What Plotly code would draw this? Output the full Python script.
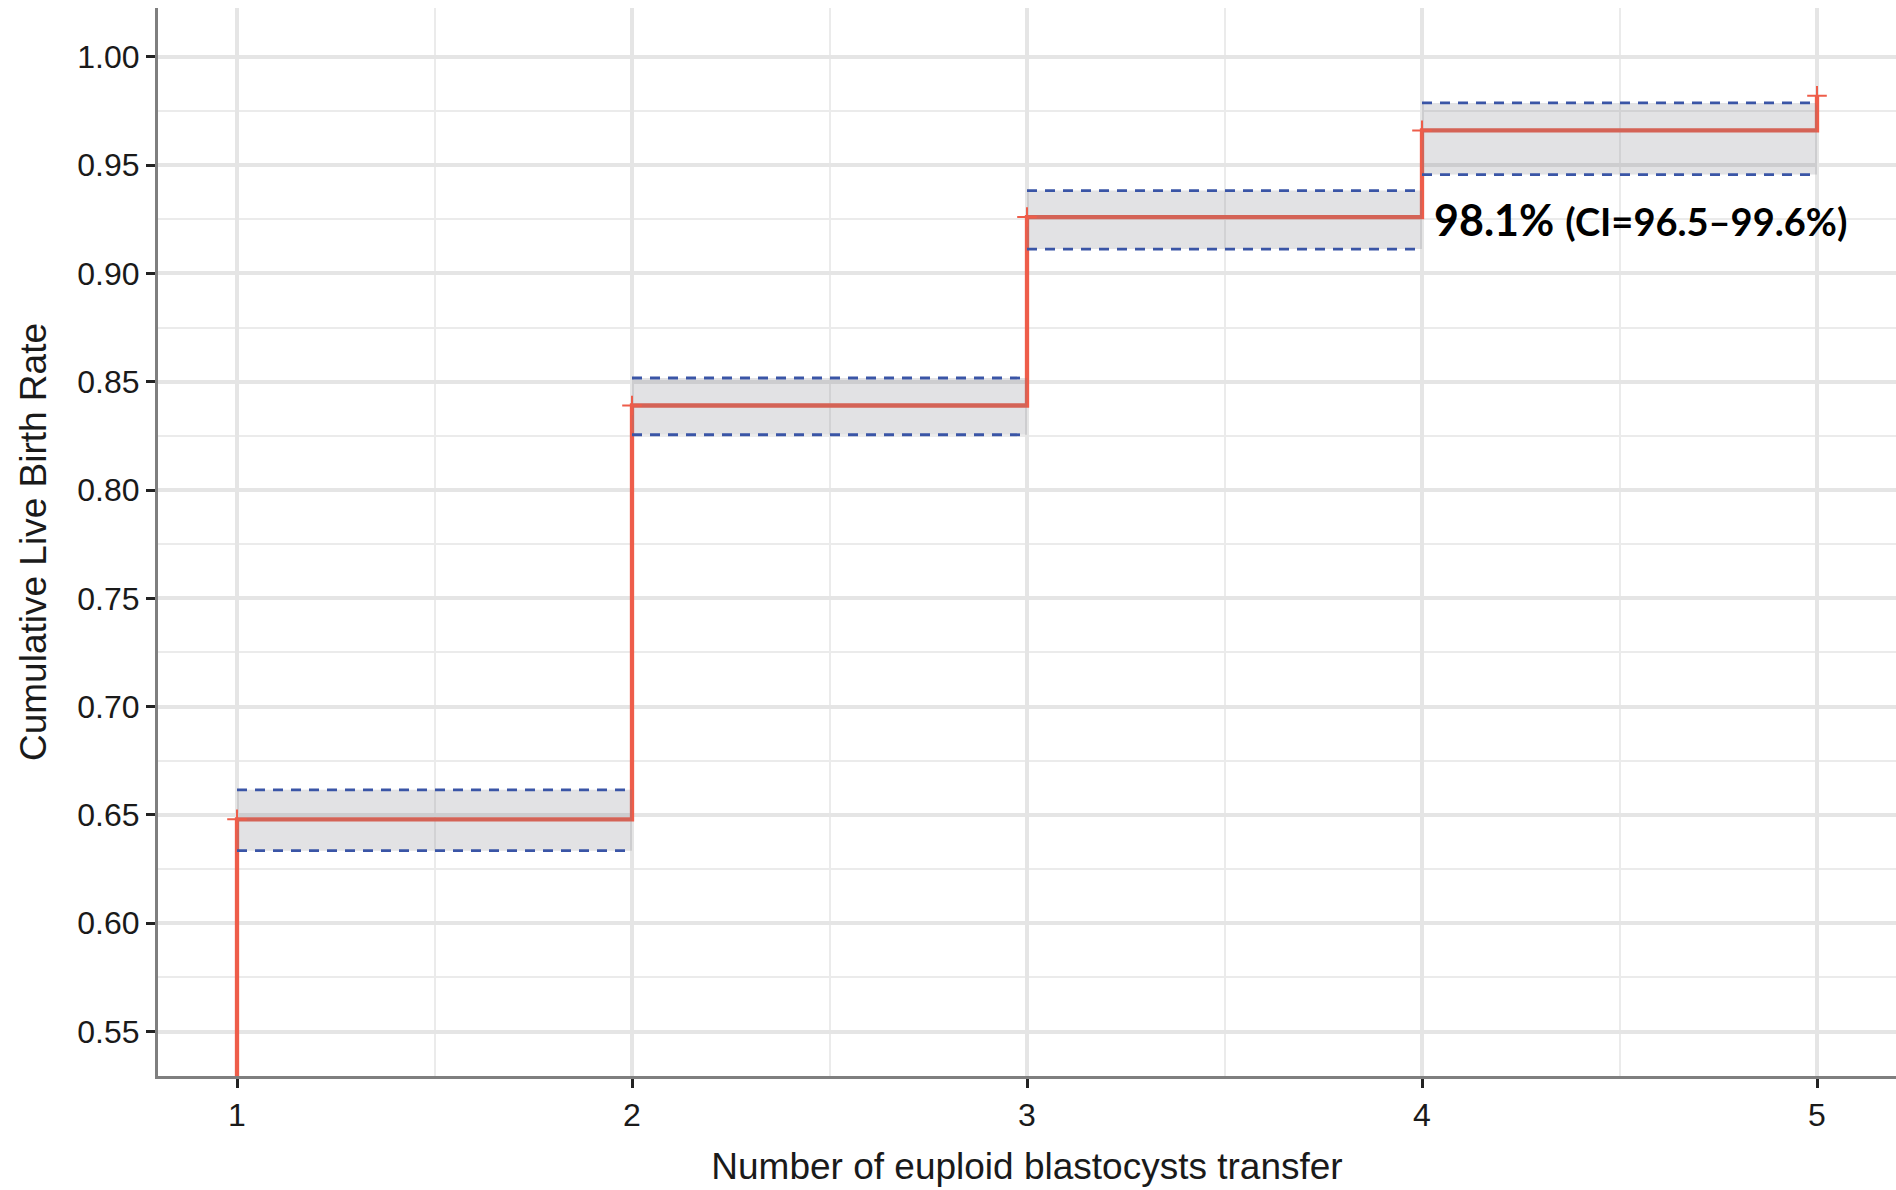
import plotly.graph_objects as go

# ---- data ----
transfers = [0, 1, 2, 3, 4, 5]
cum_rate = [0.0, 0.648, 0.839, 0.926, 0.966, 0.982]
ci_start = [1, 2, 3, 4]
ci_end = [2, 3, 4, 5]
ci_lower = [0.6335, 0.8255, 0.9112, 0.9456]
ci_upper = [0.6616, 0.8517, 0.9382, 0.9787]
x_ticks = [1, 2, 3, 4, 5]
annot_main = "98.1%"
annot_ci = "(CI=96.5–99.6%)"

RED = "#EE5D4A"
BLUE = "#3A55A6"

fig = go.Figure()

# step line
fig.add_trace(go.Scatter(x=transfers, y=cum_rate, mode="lines", line_shape="hv",
                         line=dict(color=RED, width=4.3), showlegend=False, hoverinfo="skip"))

# ribbon (per interval)
rx, ry = [], []
for a, b, lo, hi in zip(ci_start, ci_end, ci_lower, ci_upper):
    rx += [a, b, b, a, a, None]
    ry += [lo, lo, hi, hi, lo, None]
fig.add_trace(go.Scatter(x=rx, y=ry, mode="lines", fill="toself",
                         fillcolor="rgba(125,125,132,0.22)", line=dict(width=0),
                         showlegend=False, hoverinfo="skip"))

# dashed CI lines
dx, dy = [], []
for a, b, lo, hi in zip(ci_start, ci_end, ci_lower, ci_upper):
    dx += [a, b, None, a, b, None]
    dy += [lo, lo, None, hi, hi, None]
fig.add_trace(go.Scatter(x=dx, y=dy, mode="lines",
                         line=dict(color=BLUE, width=2.8, dash="10px,8px"),
                         showlegend=False, hoverinfo="skip"))

# censor marks
fig.add_trace(go.Scatter(x=transfers[1:], y=cum_rate[1:], mode="markers",
                         marker=dict(symbol="cross-thin", size=14, color=RED,
                                     line=dict(color=RED, width=2)),
                         showlegend=False, hoverinfo="skip"))

fig.add_annotation(x=4, y=0.925, xref="x", yref="y", xanchor="left", yanchor="middle",
                   xshift=10, showarrow=False,
                   text=f"<b>{annot_main}</b> <span style='font-size:38px'><b>{annot_ci}</b></span>",
                   font=dict(family="Lato", size=43, color="#000000"))

tick_font = dict(family="Liberation Sans, Arial", size=32, color="#1A1A1A")
title_font = dict(family="Liberation Sans, Arial", size=37, color="#1A1A1A")

fig.update_layout(
    width=1896, height=1190,
    margin=dict(l=158, r=0, t=8, b=114),
    plot_bgcolor="white", paper_bgcolor="white",
    xaxis=dict(range=[0.8, 5.2], tickvals=x_ticks, showline=True, linecolor="#7F7F7F",
               linewidth=3, ticks="outside", ticklen=9, tickwidth=3, tickcolor="#222222",
               showgrid=True, gridcolor="#E5E5E5", gridwidth=3.5, zeroline=False,
               minor=dict(dtick=0.5, showgrid=True, gridcolor="#EBEBEB", gridwidth=1.8),
               tickfont=tick_font,
               title=dict(text="Number of euploid blastocysts transfer", font=title_font, standoff=21)),
    yaxis=dict(range=[0.5295, 1.0225], dtick=0.05, tick0=0, tickformat=".2f",
               showline=True, linecolor="#7F7F7F", linewidth=3, ticks="outside",
               ticklen=9, tickwidth=3, tickcolor="#222222",
               showgrid=True, gridcolor="#E5E5E5", gridwidth=3.5, zeroline=False,
               minor=dict(dtick=0.025, showgrid=True, gridcolor="#EBEBEB", gridwidth=1.8),
               tickfont=tick_font,
               title=dict(text="Cumulative Live Birth Rate", font=title_font, standoff=20)),
)

fig.write_html("out.html", config={"displayModeBar": False},
               post_script="document.body.style.margin='0';document.body.style.overflow='hidden';")
